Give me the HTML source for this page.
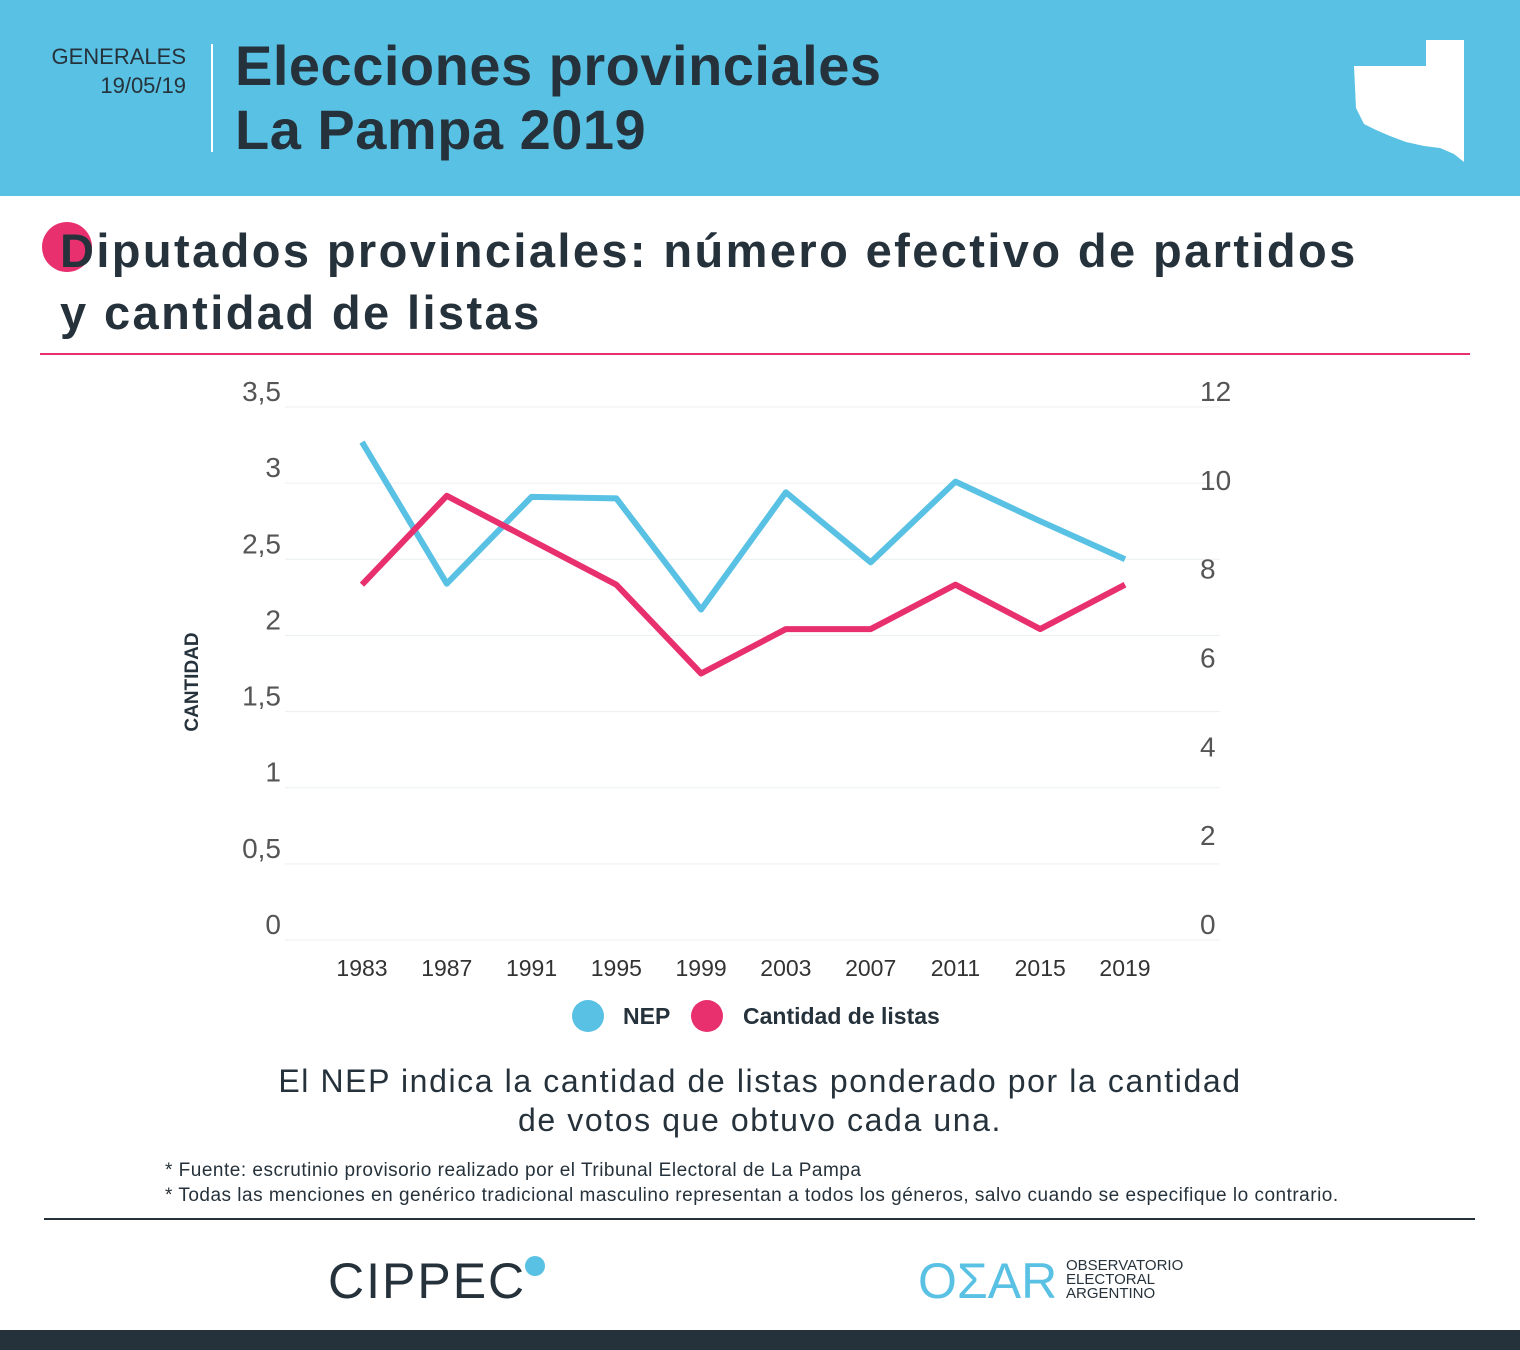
<!DOCTYPE html>
<html><head><meta charset="utf-8"><style>
body{margin:0;width:1520px;height:1350px;position:relative;background:#fff;font-family:"Liberation Sans",sans-serif;overflow:hidden;color:#26323b}
.abs{position:absolute}
</style></head><body>
<div class="abs" style="left:0;top:0;width:1520px;height:196px;background:#59c1e3"></div>
<div class="abs" style="left:30px;top:42px;width:156px;text-align:right;font-size:22px;line-height:29px;color:#26323b">GENERALES<br>19/05/19</div>
<div class="abs" style="left:211px;top:44px;width:2px;height:108px;background:#fff"></div>
<div class="abs" style="left:235px;top:34px;font-size:56px;font-weight:bold;line-height:64px;letter-spacing:0.5px;color:#26323b">Elecciones provinciales<br>La Pampa 2019</div>
<svg class="abs" style="left:1350px;top:38px" width="118" height="126"><path d="M76 2 L114 2 L114 124 L104 116 L90 110 L74 108 L56 104 L40 98 L26 92 L14 86 L10 78 L6 70 L4 28 L76 28 Z" fill="#fff"/></svg>
<div class="abs" style="left:42px;top:222px;width:50px;height:50px;border-radius:50%;background:#e8306e"></div>
<div class="abs" style="left:60px;top:220px;font-size:47px;font-weight:bold;line-height:62px;letter-spacing:2.4px;color:#26323b">Diputados provinciales: número efectivo de partidos<br>y cantidad de listas</div>
<div class="abs" style="left:40px;top:353px;width:1430px;height:2px;background:#e8306e"></div>
<svg class="abs" id="chart" style="left:0;top:0" width="1520" height="1050"></svg>
<div class="abs" style="left:193px;top:682px;transform:translate(-50%,-50%) rotate(-90deg);font-size:19px;font-weight:bold;color:#26323b">CANTIDAD</div>
<div class="abs" style="left:572px;top:1000px;width:32px;height:32px;border-radius:50%;background:#59c1e3"></div>
<div class="abs" style="left:623px;top:1003px;font-size:23px;font-weight:bold;color:#26323b">NEP</div>
<div class="abs" style="left:691px;top:1000px;width:32px;height:32px;border-radius:50%;background:#e8306e"></div>
<div class="abs" style="left:743px;top:1003px;font-size:23px;font-weight:bold;color:#26323b">Cantidad de listas</div>
<div class="abs" style="left:0;top:1062px;width:1520px;text-align:center;font-size:32px;line-height:39px;letter-spacing:1.6px;color:#26323b">El NEP indica la cantidad de listas ponderado por la cantidad<br>de votos que obtuvo cada una.</div>
<div class="abs" style="left:165px;top:1158px;font-size:19px;line-height:25px;letter-spacing:0.5px;color:#26323b">* Fuente: escrutinio provisorio realizado por el Tribunal Electoral de La Pampa<br>* Todas las menciones en genérico tradicional masculino representan a todos los géneros, salvo cuando se especifique lo contrario.</div>
<div class="abs" style="left:44px;top:1218px;width:1431px;height:2px;background:#26323b"></div>
<div class="abs" style="left:328px;top:1252px;font-size:50px;letter-spacing:2px;color:#26323b">CIPPEC</div>
<div class="abs" style="left:525px;top:1256px;width:20px;height:20px;border-radius:50%;background:#59c1e3"></div>
<div class="abs" style="left:918px;top:1252px;font-size:50px;color:#59c1e3">OΣAR</div>
<div class="abs" style="left:1066px;top:1259px;font-size:15px;line-height:14px;color:#26323b">OBSERVATORIO<br>ELECTORAL<br>ARGENTINO</div>
<div class="abs" style="left:0;top:1330px;width:1520px;height:20px;background:#26323b"></div>
<script>
const years=["1983","1987","1991","1995","1999","2003","2007","2011","2015","2019"];
const nep=[3.27,2.34,2.91,2.90,2.17,2.94,2.48,3.01,2.75,2.50];
const listas=[8,10,9,8,6,7,7,8,7,8];
const leftTicks=[0,0.5,1,1.5,2,2.5,3,3.5];
const rightTicks=[0,2,4,6,8,10,12];
const NS="http://www.w3.org/2000/svg";
const svg=document.getElementById('chart');
const y0=940,y1=407;
const yL=v=>y0-(v/3.5)*(y0-y1);
const yR=v=>y0-(v/12)*(y0-y1);
const x=i=>362+i*(1125-362)/(years.length-1);
function mk(t,a){const e=document.createElementNS(NS,t);for(const k in a)e.setAttribute(k,a[k]);svg.appendChild(e);return e;}
leftTicks.forEach(v=>{
 const g=mk('line',{x1:285,x2:1220,y1:yL(v),y2:yL(v),stroke:'#eceff1','stroke-width':1});
 
 
 const t=mk('text',{x:281,y:yL(v)-6,'text-anchor':'end','font-size':28,fill:'#555','font-family':'Liberation Sans'});
 t.textContent=String(v).replace('.',',');
 
 
});
rightTicks.forEach(v=>{
 const t=mk('text',{x:1200,y:yR(v)-6,'font-size':28,fill:'#555','font-family':'Liberation Sans'});
 t.textContent=v;
 
 
});
years.forEach((yy,i)=>{
 const t=mk('text',{x:x(i),y:976,'text-anchor':'middle','font-size':23,fill:'#333','font-family':'Liberation Sans'});
 t.textContent=yy;
 
 
});
const p1=mk('polyline',{points:nep.map((v,i)=>x(i)+','+yL(v)).join(' '),fill:'none',stroke:'#59c1e3','stroke-width':6,'stroke-linejoin':'round'});


const p2=mk('polyline',{points:listas.map((v,i)=>x(i)+','+yR(v)).join(' '),fill:'none',stroke:'#e8306e','stroke-width':6,'stroke-linejoin':'round'});


</script>
</body></html>
